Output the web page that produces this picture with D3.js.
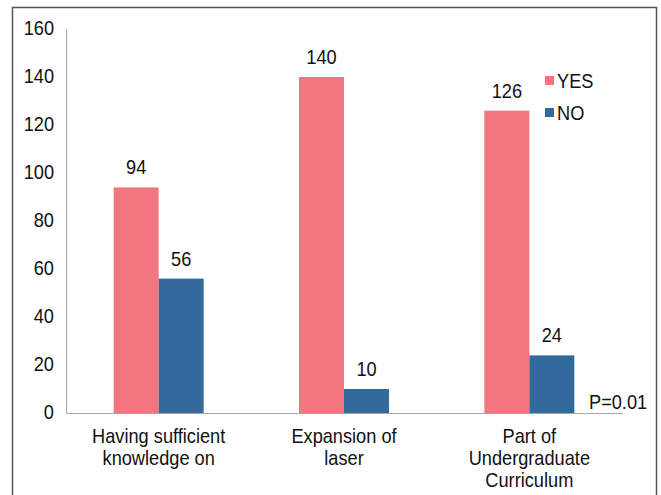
<!DOCTYPE html>
<html>
<head>
<meta charset="utf-8">
<script src="https://cdn.jsdelivr.net/npm/d3@7"></script>
<style>
  html, body { margin: 0; padding: 0; background: #fff; }
  svg { display: block; font-family: "Liberation Sans", Arial, sans-serif; }
</style>
</head>
<body>
<svg id="chart" width="661" height="495"></svg>
<script>
// Survey responses per statement
const categories = [
  ["Having sufficient", "knowledge on"],
  ["Expansion of", "laser"],
  ["Part of", "Undergraduate", "Curriculum"]
];
const seriesNames = ["YES", "NO"];
const yesValues = [94, 140, 126];
const noValues = [56, 10, 24];
const yTicks = [0, 20, 40, 60, 80, 100, 120, 140, 160];
const note = "P=0.01";

const colors = { YES: "#f3767f", NO: "#336a9c" };
const fontSize = 20;
const squeeze = 0.91; // slightly condensed lettering

const svg = d3.select("#chart");

// Places a condensed text label at (x, y)
function label(parent, x, y, str, anchor) {
  const g = parent.append("g")
    .attr("transform", `translate(${x},${y}) scale(${squeeze},1)`);
  return g.append("text")
    .attr("text-anchor", anchor || "start")
    .attr("font-size", fontSize)
    .attr("fill", "#111")
    .text(str);
}

// Outer frame (open at the bottom edge of the page)
svg.append("rect")
  .attr("x", 12.5).attr("y", 7.5)
  .attr("width", 644).attr("height", 520)
  .attr("fill", "none")
  .attr("stroke", "#555")
  .attr("stroke-width", 1.5);

const plot = { left: 66, right: 622, top: 29, bottom: 413 };

const x0 = d3.scaleBand()
  .domain(d3.range(categories.length))
  .range([plot.left, plot.right])
  .padding(0);

const barW = 45;
const x1 = d3.scaleBand()
  .domain(seriesNames)
  .range([x0.bandwidth() / 2 - barW, x0.bandwidth() / 2 + barW])
  .padding(0);

const y = d3.scaleLinear()
  .domain([0, 160])
  .range([plot.bottom, plot.top]);

const rows = categories.map((c, i) => ({
  i,
  values: [
    { key: "YES", value: yesValues[i] },
    { key: "NO", value: noValues[i] }
  ]
}));

// Y axis
const yAxis = svg.append("g")
  .attr("transform", `translate(${plot.left},0)`)
  .call(d3.axisLeft(y).tickValues(yTicks).tickSize(0).tickFormat(""));
yAxis.select(".domain").attr("stroke", "#a6a6a6").attr("stroke-width", 1);
const yLabels = svg.append("g");
yTicks.forEach(t => label(yLabels, 54, y(t) + 6, t, "end"));

// Bars
const groups = svg.append("g").selectAll("g")
  .data(rows)
  .join("g")
  .attr("transform", d => `translate(${x0(d.i)},0)`);

groups.selectAll("rect")
  .data(d => d.values)
  .join("rect")
  .attr("x", d => x1(d.key))
  .attr("y", d => y(d.value))
  .attr("width", x1.bandwidth())
  .attr("height", d => y(0) - y(d.value))
  .attr("fill", d => colors[d.key]);

const valLayer = svg.append("g");
rows.forEach(r => r.values.forEach(v => {
  label(valLayer, x0(r.i) + x1(v.key) + x1.bandwidth() / 2, y(v.value) - 13, v.value, "middle");
}));

// X axis baseline
const xAxis = svg.append("g")
  .attr("transform", `translate(0,${plot.bottom})`)
  .call(d3.axisBottom(x0).tickSize(0).tickFormat(""));
xAxis.select(".domain").attr("stroke", "#a6a6a6").attr("stroke-width", 1);

// Category labels
const catLayer = svg.append("g");
categories.forEach((lines, i) => {
  lines.forEach((line, j) => {
    label(catLayer, x0(i) + x0.bandwidth() / 2, 443 + j * 22, line, "middle");
  });
});

// Legend
const legend = svg.append("g");
seriesNames.forEach((name, i) => {
  legend.append("rect")
    .attr("x", 545).attr("y", 76 + i * 32)
    .attr("width", 9).attr("height", 9)
    .attr("fill", colors[name]);
  label(legend, 557, 88 + i * 32, name, "start");
});

// Significance note
label(svg, 589, 409, note, "start");
</script>
</body>
</html>
